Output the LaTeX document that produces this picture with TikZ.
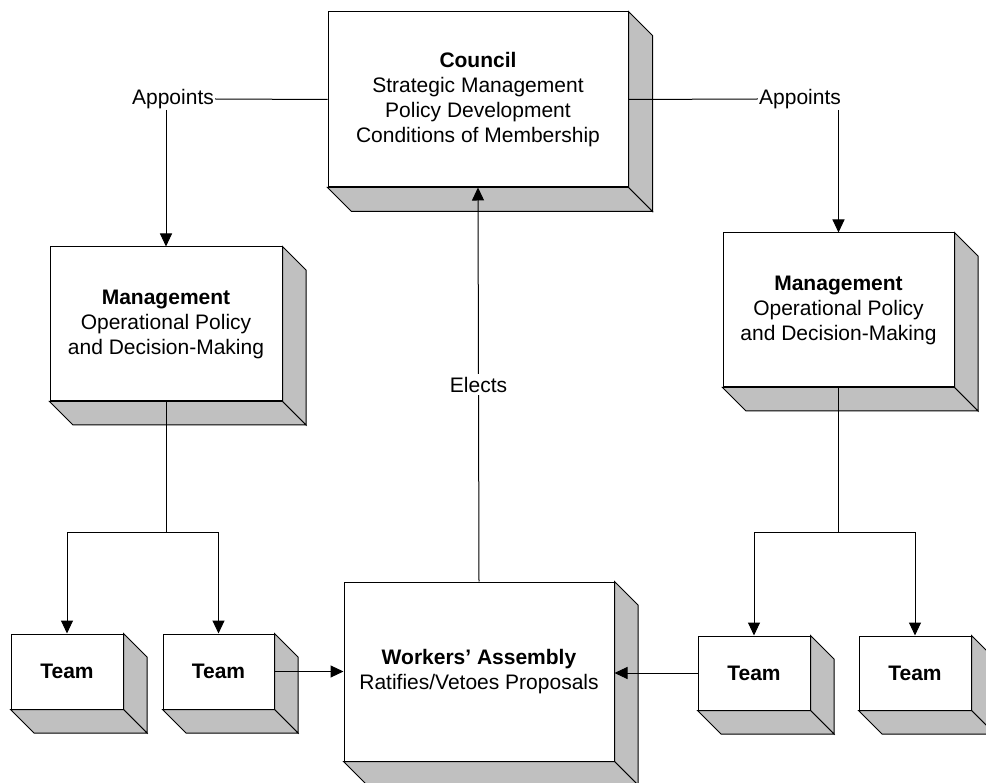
\documentclass[tikz,border=0pt]{standalone}
\usepackage{fontspec}
\setmainfont{Liberation Sans}
\usetikzlibrary{arrows.meta,calc}
\tikzset{
  box/.style={draw=black, line width=1pt, fill=white, inner sep=0pt, align=center,
    font=\fontsize{21}{25}\selectfont},
  lbl/.style={inner sep=1pt, font=\fontsize{21}{25}\selectfont},
  conn/.style={draw=black, line width=1pt},
  arr/.style={conn, -{Triangle[length=13pt,width=12pt]}},
  side/.style={draw=black, line width=1pt, fill=shadegray, line join=miter}
}
\definecolor{shadegray}{HTML}{C0C0C0}
\newcommand{\depthbox}[2]{%
  \draw[side] (#1.north east) -- ++(#2,#2) -- ($(#1.south east)+(#2,#2)$) -- (#1.south east) -- cycle;
  \draw[side] (#1.south west) -- (#1.south east) -- ++(#2,#2) -- ($(#1.south west)+(#2,#2)$) -- cycle;
}
\begin{document}
\begin{tikzpicture}[x=1pt,y=-1pt]
\useasboundingbox (0,0) rectangle (986,783);
\clip (0,0) rectangle (986,783);
% boxes
\node[box, minimum width=300pt, minimum height=175pt] (council) at (478,99.5)
  {\textbf{Council}\\Strategic Management\\Policy Development\\Conditions of Membership};
\depthbox{council}{24}
\node[box, minimum width=232pt, minimum height=154pt] (mgmtL) at (166,324)
  {\textbf{Management}\\Operational Policy\\and Decision-Making};
\depthbox{mgmtL}{23.5}
\node[box, minimum width=231pt, minimum height=154pt] (mgmtR) at (838.5,310)
  {\textbf{Management}\\Operational Policy\\and Decision-Making};
\depthbox{mgmtR}{23.5}
\node[box, minimum width=270pt, minimum height=179pt] (workers) at (479,671.5)
  {\textbf{Workers’ Assembly}\\Ratifies/Vetoes Proposals};
\depthbox{workers}{23.5}
\node[box, minimum width=112pt, minimum height=75pt] (teamL1) at (67,671.5) {\textbf{Team}};
\depthbox{teamL1}{23.5}
\node[box, minimum width=111pt, minimum height=75pt] (teamL2) at (218.5,671.5) {\textbf{Team}};
\depthbox{teamL2}{23.5}
\node[box, minimum width=112pt, minimum height=74pt] (teamR1) at (754,673) {\textbf{Team}};
\depthbox{teamR1}{23.5}
\node[box, minimum width=112pt, minimum height=74pt] (teamR2) at (915,673) {\textbf{Team}};
\depthbox{teamR2}{23.5}
% labels
\node[lbl] (appL) at (173,99) {Appoints};
\node[lbl] (appR) at (800,99) {Appoints};
\coordinate (jL) at (166,533);
\coordinate (jR) at (838.5,533);
% connectors
\draw[conn] (council.west) -- (appL.east);
\draw[conn] (council.east) -- (appR.west);
\draw[arr] (appL.south -| mgmtL.north) -- (mgmtL.north);
\draw[arr] (appR.south -| mgmtR.north) -- (mgmtR.north);
\draw[arr] (workers.north) -- node[lbl, fill=white, inner sep=3pt] (elects) {Elects} (council.south);
\draw[conn] (mgmtL.south) -- (jL);
\draw[arr] (jL) -| (teamL1.north);
\draw[arr] (jL) -| (teamL2.north);
\draw[conn] (mgmtR.south) -- (jR);
\draw[arr] (jR) -| (teamR1.north);
\draw[arr] (jR) -| (teamR2.north);
\draw[arr] (teamL2.east) -- (workers.west |- teamL2.east);
\draw[arr] (teamR1.west) -- (workers.east |- teamR1.west);
\end{tikzpicture}
\end{document}
